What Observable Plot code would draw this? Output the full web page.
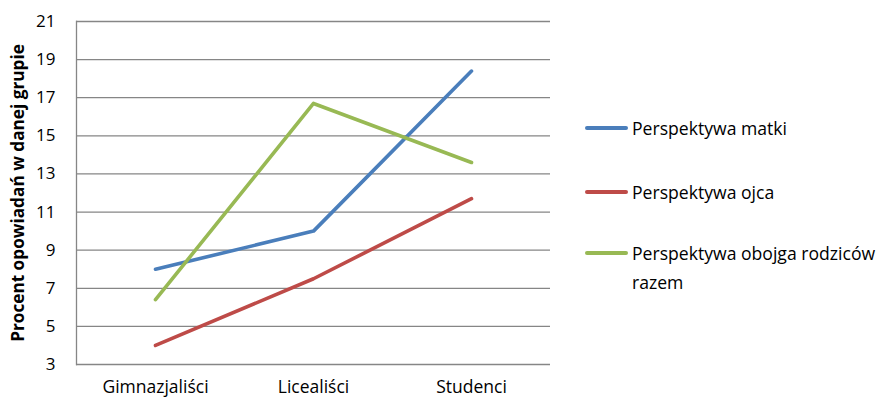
<!DOCTYPE html>
<html><head><meta charset="utf-8">
<script src="https://cdn.jsdelivr.net/npm/d3@7"></script>
<script src="https://cdn.jsdelivr.net/npm/@observablehq/plot@0.6"></script>
<style>
body{margin:0;background:#fff;font-family:"Open Sans",sans-serif;}
#wrap{position:relative;width:882px;height:398px;overflow:hidden;}
#legend{position:absolute;left:585px;top:0;width:297px;font-size:17.6px;color:#000;font-family:"Open Sans",sans-serif;}
.item{position:absolute;left:0;display:flex;align-items:flex-start;}
.sw{width:43px;height:4px;border-radius:2px;margin-top:12.5px;flex:none;}
.lb{width:251px;line-height:29px;margin-left:4px;}
</style></head><body>
<div id="wrap"></div>
<script>
const categories = ["Gimnazjaliści", "Licealiści", "Studenci"];
const seriesNames = ["Perspektywa matki", "Perspektywa ojca", "Perspektywa obojga rodziców razem"];
const matki = [8.0, 10.0, 18.4];
const ojca = [4.0, 7.5, 11.7];
const obojga = [6.4, 16.7, 13.6];
const yTicks = [3, 5, 7, 9, 11, 13, 15, 17, 19, 21];
const colors = ["#4A7EBB", "#BE4B48", "#98B954"];
const yLabel = "Procent opowiadań w danej grupie";

const valuesBySeries = [matki, ojca, obojga];
const data = [];
seriesNames.forEach((s, i) => categories.forEach((c, j) => data.push({series: s, cat: c, value: valuesBySeries[i][j]})));

const chart = Plot.plot({
  width: 882, height: 398,
  marginLeft: 76, marginRight: 332, marginTop: 21, marginBottom: 34,
  style: {fontFamily: "Open Sans, sans-serif", fontSize: "17px", color: "#000", background: "#fff", overflow: "visible"},
  x: {domain: categories, type: "point", padding: 0.5, label: null},
  y: {domain: [3, 21], label: null},
  color: {domain: seriesNames, range: colors},
  marks: [
    Plot.ruleY(yTicks, {stroke: "#868686", strokeWidth: 1.3, strokeOpacity: 1}),
    Plot.frame({anchor: "left", stroke: "#868686", strokeWidth: 1.3}),
    Plot.axisY(yTicks, {tickSize: 0, tickPadding: 21, fontSize: 17, label: null}),
    Plot.axisX({tickSize: 0, tickPadding: 16, fontSize: 17.5, label: null}),
    Plot.text([yLabel], {frameAnchor: "left", textAnchor: "middle", lineAnchor: "middle", dx: -58, rotate: -90, fontWeight: "bold", fontSize: 17.2}),
    Plot.line(data, {x: "cat", y: "value", z: "series", stroke: "series", strokeWidth: 3.6, strokeLinecap: "round", strokeLinejoin: "round"})
  ]
});
const wrap = document.getElementById("wrap");
wrap.appendChild(chart);
const legend = document.createElement("div");
legend.id = "legend";
const lineYs = [128, 192, 253];
seriesNames.forEach((s, i) => {
  const it = document.createElement("div");
  it.className = "item";
  it.style.top = (lineYs[i] - 14.5) + "px";
  const sw = document.createElement("div"); sw.className = "sw"; sw.style.background = colors[i];
  const lb = document.createElement("div"); lb.className = "lb"; lb.textContent = s;
  it.appendChild(sw); it.appendChild(lb);
  legend.appendChild(it);
});
wrap.appendChild(legend);
</script>
</body></html>
